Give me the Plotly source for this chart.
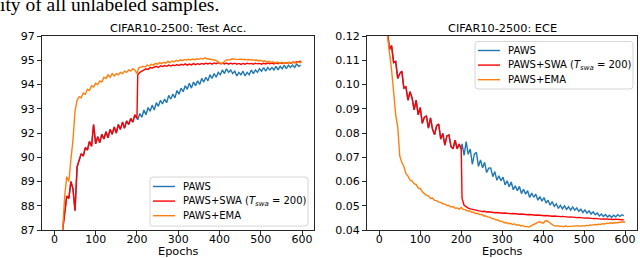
import numpy as np
import plotly.graph_objects as go

# ---------------- data ----------------
ACC_TICKS = [87, 88, 89, 90, 92, 93, 94, 95, 97]
ACC_TICK_LABELS = ["87", "88", "89", "90", "92", "93", "94", "95", "97"]
ECE_TICKS = [0.04, 0.05, 0.06, 0.07, 0.08, 0.09, 0.10, 0.11, 0.12]
ECE_TICK_LABELS = ["0.04", "0.05", "0.06", "0.07", "0.08", "0.09", "0.10", "0.11", "0.12"]
EPOCH_TICKS = [0, 100, 200, 300, 400, 500, 600]

early_epochs = list(range(20, 201, 5))      # shared PAWS / PAWS+SWA before T_swa
late_epochs = list(range(202, 601, 5))      # after T_swa
ema_epochs = list(range(20, 601, 5))

# Test accuracy
acc_early = [87.0, 87.8, 88.4, 88.3, 89.0, 88.7, 87.8, 89.6, 89.9, 90.3,
             90.1, 90.8, 90.6, 91.3, 90.9, 92.35, 91.1, 91.7, 91.2, 91.9,
             91.5, 92.05, 91.6, 92.15, 91.9, 92.25, 92.0, 92.35, 92.15, 92.45,
             92.2, 92.5, 92.35, 92.6, 92.45, 92.75, 92.6]
acc_paws_late = [92.55, 92.8, 92.65, 92.95, 92.75, 93.05, 92.9, 93.15, 92.95, 93.25,
                 93.1, 93.35, 93.2, 93.4, 93.25, 93.55, 93.4, 93.6, 93.45, 93.75,
                 93.6, 93.85, 93.7, 93.95, 93.8, 94.05, 93.85, 94.1, 93.95, 94.15,
                 94.0, 94.25, 94.1, 94.3, 94.15, 94.4, 94.25, 94.45, 94.3, 94.5,
                 94.4, 94.6, 94.45, 94.65, 94.5, 94.6, 94.45, 94.55, 94.35, 94.5,
                 94.4, 94.55, 94.35, 94.5, 94.4, 94.6, 94.45, 94.6, 94.5, 94.65,
                 94.55, 94.7, 94.55, 94.7, 94.6, 94.7, 94.6, 94.75, 94.6, 94.75,
                 94.65, 94.8, 94.65, 94.8, 94.7, 94.8, 94.7, 94.85, 94.75, 94.8]
acc_swa_late = [94.4, 94.5, 94.55, 94.6, 94.65, 94.62, 94.7, 94.68, 94.72, 94.75,
                94.7, 94.77, 94.74, 94.78, 94.75, 94.8, 94.76, 94.8, 94.78, 94.82,
                94.78, 94.83, 94.8, 94.85, 94.8, 94.84, 94.81, 94.86, 94.82, 94.86,
                94.83, 94.87, 94.84, 94.88, 94.85, 94.88, 94.84, 94.89, 94.86, 94.9,
                94.86, 94.88, 94.85, 94.89, 94.84, 94.88, 94.85, 94.88, 94.84, 94.87,
                94.83, 94.87, 94.84, 94.88, 94.85, 94.87, 94.84, 94.88, 94.85, 94.87,
                94.84, 94.88, 94.85, 94.89, 94.86, 94.88, 94.85, 94.89, 94.86, 94.9,
                94.87, 94.9, 94.88, 94.91, 94.88, 94.92, 94.9, 94.94, 94.93, 94.98]
acc_ema = [87.0, 88.4, 89.2, 89.0, 89.9, 91.4, 92.9, 93.35, 93.5, 93.45,
           93.65, 93.6, 93.8, 93.75, 93.95, 93.9, 94.05, 94.0, 94.15, 94.1,
           94.3, 94.25, 94.4, 94.3, 94.45, 94.35, 94.45, 94.4, 94.5, 94.45,
           94.55, 94.5, 94.6, 94.55, 94.65, 94.6, 94.45, 94.7, 94.72, 94.75,
           94.72, 94.8, 94.77, 94.83, 94.8, 94.87, 94.84, 94.9, 94.86, 94.92,
           94.88, 94.95, 94.9, 94.97, 94.93, 95.0, 94.96, 95.03, 94.98, 95.05,
           95.02, 95.08, 95.03, 95.1, 95.05, 95.12, 95.08, 95.15, 95.1, 95.2,
           95.12, 95.1, 95.05, 95.08, 95.0, 94.95, 94.88, 94.85, 94.92, 95.0,
           95.05, 95.02, 95.12, 95.08, 95.1, 95.05, 95.1, 95.05, 95.08, 95.03,
           95.06, 95.02, 95.05, 95.0, 95.02, 94.97, 95.0, 94.95, 94.98, 94.92,
           94.96, 94.9, 94.94, 94.88, 94.93, 94.88, 94.92, 94.87, 94.91, 94.88,
           94.92, 94.88, 94.93, 94.89, 94.94, 94.9, 94.93]

# ECE
ece_early = [0.1215, 0.1145, 0.1160, 0.1090, 0.1095, 0.1025, 0.1045, 0.1055, 0.0985, 0.0990,
             0.0935, 0.0970, 0.0945, 0.0895, 0.0935, 0.0875, 0.0905, 0.0840, 0.0865, 0.0870,
             0.0820, 0.0862, 0.0815, 0.0793, 0.0830, 0.0837, 0.0775, 0.0798, 0.0750, 0.0788,
             0.0792, 0.0745, 0.0735, 0.0770, 0.0735, 0.0755, 0.0733]
ece_paws_late = [0.0755, 0.0708, 0.0765, 0.0712, 0.0734, 0.0671, 0.0713, 0.0720, 0.0662, 0.0689,
                 0.0656, 0.0679, 0.0637, 0.0655, 0.0656, 0.0620, 0.0641, 0.0605, 0.0624, 0.0603,
                 0.0618, 0.0586, 0.0603, 0.0578, 0.0598, 0.0566, 0.0582, 0.0562, 0.0580, 0.0550,
                 0.0568, 0.0548, 0.0562, 0.0534, 0.0552, 0.0535, 0.0548, 0.0523, 0.0538, 0.0519,
                 0.0534, 0.0511, 0.0523, 0.0502, 0.0517, 0.0497, 0.0508, 0.0489, 0.0502, 0.0487,
                 0.0500, 0.0485, 0.0496, 0.0482, 0.0495, 0.0482, 0.0491, 0.0477, 0.0486, 0.0472,
                 0.0483, 0.0470, 0.0479, 0.0466, 0.0475, 0.0463, 0.0470, 0.0458, 0.0466, 0.0456,
                 0.0464, 0.0454, 0.0461, 0.0452, 0.0461, 0.0454, 0.0463, 0.0456, 0.0463, 0.0459]
ece_swa_late = [0.0530, 0.0502, 0.0495, 0.0490, 0.0487, 0.0485, 0.0482, 0.0480, 0.0478, 0.0477,
                0.0476, 0.0477, 0.0474, 0.0475, 0.0473, 0.0474, 0.0471, 0.0472, 0.0470, 0.0471,
                0.0469, 0.0470, 0.0468, 0.0469, 0.0467, 0.0468, 0.0466, 0.0467, 0.0465, 0.0466,
                0.0464, 0.0465, 0.0463, 0.0464, 0.0462, 0.0463, 0.0461, 0.0462, 0.0460, 0.0461,
                0.0459, 0.0460, 0.0458, 0.0459, 0.0457, 0.0458, 0.0456, 0.0457, 0.0455, 0.0456,
                0.0454, 0.0455, 0.0453, 0.0454, 0.0452, 0.0453, 0.0451, 0.0452, 0.0450, 0.0451,
                0.0449, 0.0450, 0.0448, 0.0449, 0.0447, 0.0448, 0.0446, 0.0447, 0.0445, 0.0446,
                0.0445, 0.0446, 0.0444, 0.0445, 0.0443, 0.0445, 0.0443, 0.0444, 0.0442, 0.0443]
ece_ema = [0.1200, 0.1140, 0.1060, 0.0970, 0.0875, 0.0825, 0.0705, 0.0678, 0.0662, 0.0632,
           0.0622, 0.0606, 0.0602, 0.0591, 0.0587, 0.0573, 0.0571, 0.0558, 0.0552, 0.0543,
           0.0541, 0.0530, 0.0532, 0.0522, 0.0521, 0.0515, 0.0514, 0.0508, 0.0507, 0.0501,
           0.0501, 0.0495, 0.0497, 0.0490, 0.0491, 0.0486, 0.0493, 0.0485, 0.0484, 0.0478,
           0.0479, 0.0474, 0.0473, 0.0468, 0.0469, 0.0464, 0.0464, 0.0458, 0.0458, 0.0453,
           0.0453, 0.0447, 0.0447, 0.0441, 0.0441, 0.0436, 0.0435, 0.0430, 0.0431, 0.0426,
           0.0428, 0.0423, 0.0425, 0.0420, 0.0422, 0.0417, 0.0419, 0.0414, 0.0415, 0.0412,
           0.0417, 0.0421, 0.0427, 0.0431, 0.0434, 0.0431, 0.0428, 0.0437, 0.0438, 0.0431,
           0.0423, 0.0419, 0.0416, 0.0418, 0.0415, 0.0416, 0.0413, 0.0417, 0.0414, 0.0415,
           0.0413, 0.0416, 0.0415, 0.0418, 0.0415, 0.0418, 0.0416, 0.0419, 0.0418, 0.0421,
           0.0420, 0.0423, 0.0421, 0.0424, 0.0423, 0.0426, 0.0425, 0.0428, 0.0427, 0.0430,
           0.0428, 0.0431, 0.0430, 0.0432, 0.0431, 0.0434, 0.0433]

SERIES = ["PAWS", "PAWS+SWA (<i>T</i><sub><i>swa</i></sub> = 200)", "PAWS+EMA"]
COLORS = ["#1f77b4", "#ff0000", "#ff7f0e"]
TITLES = ["CIFAR10-2500: Test Acc.", "CIFAR10-2500: ECE"]
XLABEL = "Epochs"
CAPTION = "ity of all unlabeled samples."

# ---------------- figure ----------------
W, H = 640, 258
FONT = "DejaVu Sans"
TICK_SIZE = 11
TITLE_SIZE = 11.3
LEGEND_SIZE = 10


def acc_pos(v):
    # the accuracy axis places its tick labels at equal spacing
    return np.interp(v, ACC_TICKS, list(range(len(ACC_TICKS))))


def px_x(p):
    return p / W


def px_y(p):
    return 1 - p / H


fig = go.Figure()

acc_series = [
    (early_epochs + late_epochs, acc_early + acc_paws_late),
    (early_epochs + late_epochs, acc_early + acc_swa_late),
    (ema_epochs, acc_ema),
]
ece_series = [
    (early_epochs + late_epochs, ece_early + ece_paws_late),
    (early_epochs + late_epochs, ece_early + ece_swa_late),
    (ema_epochs, ece_ema),
]

for i, (x, y) in enumerate(acc_series):
    fig.add_trace(go.Scatter(x=x, y=acc_pos(y), mode="lines", name=SERIES[i],
                             line=dict(color=COLORS[i], width=1.4),
                             xaxis="x", yaxis="y", showlegend=False))
for i, (x, y) in enumerate(ece_series):
    fig.add_trace(go.Scatter(x=x, y=y, mode="lines", name=SERIES[i],
                             line=dict(color=COLORS[i], width=1.4),
                             xaxis="x2", yaxis="y2", showlegend=False))

axis_common = dict(showline=True, linecolor="#262626", linewidth=1, mirror=True,
                   ticks="outside", ticklen=4, tickwidth=1, tickcolor="#262626",
                   showgrid=False, zeroline=False, automargin=False,
                   tickfont=dict(family=FONT, size=TICK_SIZE, color="black"))
xaxis_extra = dict(ticklabelstandoff=-5)

fig.update_layout(
    width=W, height=H,
    margin=dict(l=0, r=0, t=0, b=0, autoexpand=False),
    paper_bgcolor="white", plot_bgcolor="white",
    font=dict(family=FONT, size=TICK_SIZE, color="black"),
    showlegend=False,
    xaxis=dict(domain=[px_x(42), px_x(314)], range=[-30, 629], tickvals=EPOCH_TICKS,
               anchor="y", **axis_common, **xaxis_extra),
    yaxis=dict(domain=[px_y(230), px_y(36)], range=[0, len(ACC_TICKS) - 1],
               tickvals=list(range(len(ACC_TICKS))), ticktext=ACC_TICK_LABELS,
               anchor="x", **axis_common),
    xaxis2=dict(domain=[px_x(367), px_x(637)], range=[-30, 629], tickvals=EPOCH_TICKS,
                anchor="y2", **axis_common, **xaxis_extra),
    yaxis2=dict(domain=[px_y(230), px_y(36)], range=[0.04, 0.12],
                tickvals=ECE_TICKS, ticktext=ECE_TICK_LABELS,
                anchor="x2", **axis_common),
)

shapes = []
annotations = []


def rounded_box(x0, y0, x1, y1, r=3):
    pts = [("M", x0 + r, y0), ("L", x1 - r, y0), ("Q", x1, y0, x1, y0 + r),
           ("L", x1, y1 - r), ("Q", x1, y1, x1 - r, y1), ("L", x0 + r, y1),
           ("Q", x0, y1, x0, y1 - r), ("L", x0, y0 + r), ("Q", x0, y0, x0 + r, y0)]
    parts = []
    for p in pts:
        cmd = p[0]
        coords = p[1:]
        s = []
        for k in range(0, len(coords), 2):
            s.append(f"{px_x(coords[k]):.5f},{px_y(coords[k + 1]):.5f}")
        parts.append(cmd + " " + " ".join(s))
    return " ".join(parts) + " Z"


def add_legend(box, first_y, step, line_x0, line_x1, text_x):
    x0, y0, x1, y1 = box
    shapes.append(dict(type="path", xref="paper", yref="paper",
                       path=rounded_box(x0, y0, x1, y1),
                       line=dict(color="#d6d6d6", width=1),
                       fillcolor="rgba(255,255,255,0.85)", layer="above"))
    for i, name in enumerate(SERIES):
        yy = first_y + i * step
        shapes.append(dict(type="line", xref="paper", yref="paper",
                           x0=px_x(line_x0), x1=px_x(line_x1),
                           y0=px_y(yy), y1=px_y(yy),
                           line=dict(color=COLORS[i], width=1.4), layer="above"))
        annotations.append(dict(text=name, x=px_x(text_x), y=px_y(yy),
                                xref="paper", yref="paper", xanchor="left",
                                yanchor="middle", showarrow=False,
                                font=dict(family=FONT, size=LEGEND_SIZE, color="black")))


add_legend((150, 177, 308, 226), 186.5, 14.6, 153, 175, 181)
add_legend((475, 41.5, 633, 89), 50.5, 14.6, 478, 500, 506)

for cx, title in [(178, TITLES[0]), (502, TITLES[1])]:
    annotations.append(dict(text=title, x=px_x(cx), y=px_y(29), xref="paper", yref="paper",
                            xanchor="center", yanchor="middle", showarrow=False,
                            font=dict(family=FONT, size=TITLE_SIZE)))
    annotations.append(dict(text=XLABEL, x=px_x(cx), y=px_y(251.5), xref="paper", yref="paper",
                            xanchor="center", yanchor="middle", showarrow=False,
                            font=dict(family=FONT, size=TITLE_SIZE)))

annotations.append(dict(text=CAPTION, x=px_x(-2), y=px_y(4), xref="paper", yref="paper",
                        xanchor="left", yanchor="middle", showarrow=False,
                        font=dict(family="Liberation Serif", size=19.5, color="black")))

fig.update_layout(shapes=shapes, annotations=annotations)

fig.write_html(
    "out.html",
    config={"displayModeBar": False},
    post_script="document.documentElement.style.margin='0';"
                "document.body.style.margin='0';document.body.style.overflow='hidden';",
)
